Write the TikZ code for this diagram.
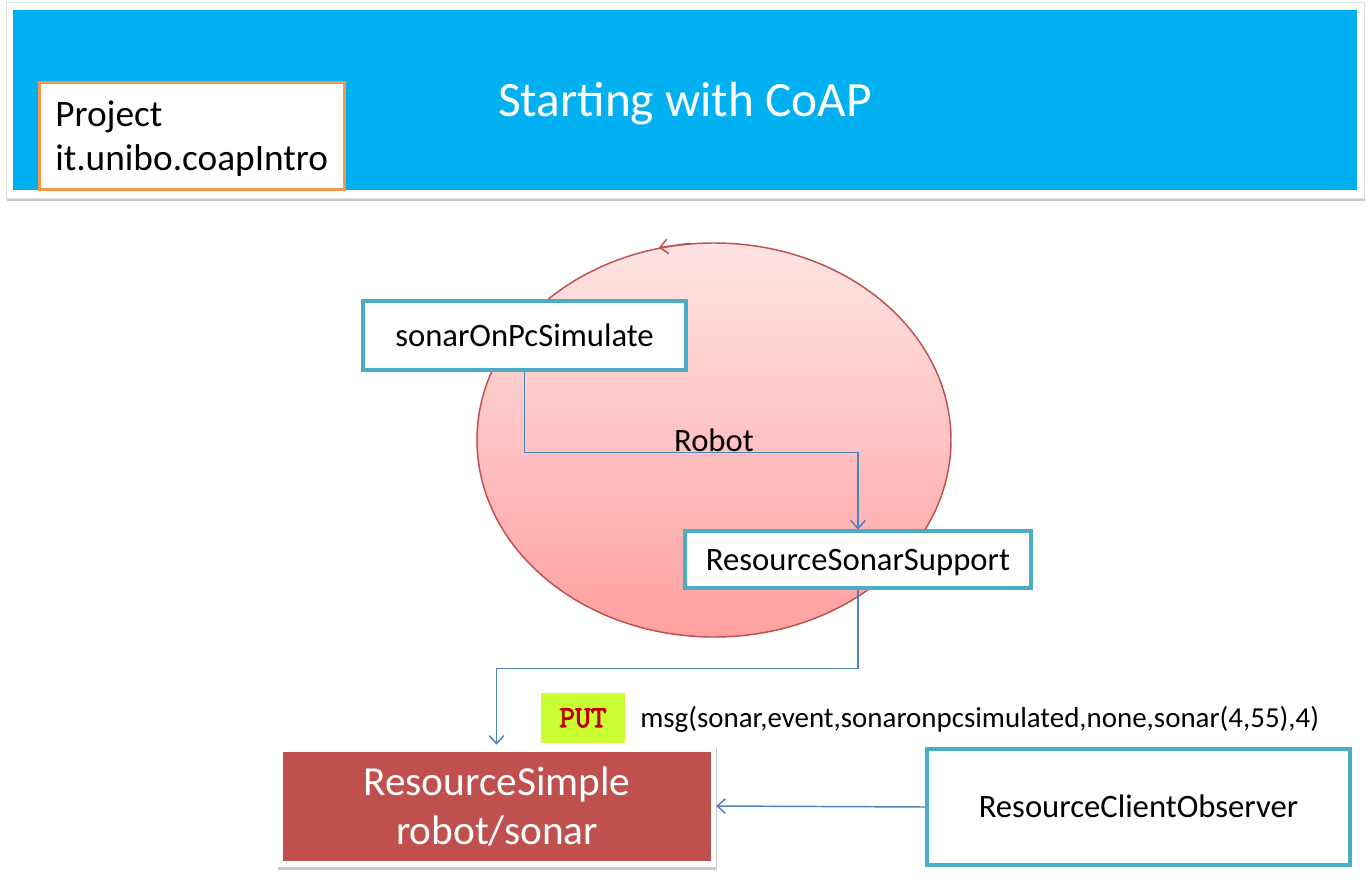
\documentclass[tikz,border=0pt]{standalone}
\usepackage{fontspec}
\setmainfont{Carlito}
\newfontfamily\monob[FakeBold=3]{Latin Modern Mono}
\usetikzlibrary{arrows.meta,shapes.geometric,shadows,calc}
\definecolor{hdrblue}{RGB}{0,176,240}
\definecolor{orangeb}{RGB}{247,150,70}
\definecolor{tealb}{RGB}{75,172,198}
\definecolor{redb}{RGB}{192,80,77}
\definecolor{linkblue}{RGB}{79,129,189}
\definecolor{putgreen}{RGB}{204,255,51}
\definecolor{putred}{RGB}{192,0,0}
\definecolor{pinktop}{RGB}{255,228,228}
\definecolor{pinkbot}{RGB}{255,160,160}
\tikzset{
  boxfont/.style={font=\fontsize{24.5}{29}\selectfont},
  tealbox/.style={draw=tealb, line width=2.3pt, fill=white, inner sep=0pt, boxfont, text height=15.8pt, text depth=0pt},
  link/.style={draw=linkblue, line width=1.1pt, -{Straight Barb[length=6pt,width=11pt,line width=1.1pt]}},
  softshadow/.style={drop shadow={shadow xshift=1pt, shadow yshift=-2.5pt, opacity=0.35, fill=black!60}},
}
\begin{document}
\begin{tikzpicture}[x=0.75pt,y=-0.75pt]
\useasboundingbox (0,0) rectangle (1370,892);
% header
\node[softshadow, fill=white, draw=black!12, line width=0.4pt, minimum width=1358*0.75pt, minimum height=196*0.75pt, inner sep=0pt] (hdrframe) at (685,100) {};
\node[fill=hdrblue, minimum width=1344*0.75pt, minimum height=180*0.75pt, inner sep=0pt] (hdr) at (685,100) {};
\node[text=white, font=\fontsize{37}{44}\selectfont] (title) at (685,104) {Starting with CoAP};
\node[draw=orangeb, line width=2.3pt, fill=white, minimum width=305*0.75pt, minimum height=107*0.75pt, inner sep=0pt] (proj) at (192,136) {};
\node[anchor=west, align=left, inner sep=0pt, font=\fontsize{28}{33}\selectfont] (projtxt) at (55,139) {Project\\it.unibo.coapIntro};
% robot ellipse
\node[ellipse, draw=redb, line width=1.1pt, top color=pinktop, bottom color=pinkbot, minimum width=474*0.75pt, minimum height=394*0.75pt, inner sep=0pt, boxfont] (rob) at (714,440) {Robot};
\draw[draw=redb, line width=1.1pt, -{Straight Barb[length=6pt,width=11pt,line width=1.1pt]}] (rob.97) -- (rob.106);
% boxes
\node[tealbox, minimum width=323*0.75pt, minimum height=69*0.75pt] (sonar) at (524.5,335.5) {sonarOnPcSimulate};
\node[tealbox, minimum width=346*0.75pt, minimum height=57*0.75pt] (rss) at (858,559.5) {ResourceSonarSupport};
\node[tealbox, minimum width=423*0.75pt, minimum height=116*0.75pt] (rco) at (1138.5,807) {ResourceClientObserver};
\node[softshadow, fill=white, minimum width=439*0.75pt, minimum height=122*0.75pt, inner sep=0pt] (rsframe) at (496.5,806) {};
\node[fill=redb, text=white, minimum width=428*0.75pt, minimum height=109*0.75pt, inner sep=0pt, align=center, font=\fontsize{31}{37}\selectfont] (rs) at (497,806.5) {ResourceSimple\\robot/sonar};
% PUT
\node[fill=putgreen, minimum width=84*0.75pt, minimum height=50*0.75pt, inner sep=0pt, text=putred, font=\monob\fontsize{23}{26}\selectfont] (put) at (583,718) {PUT};
\node[anchor=west, inner sep=0pt, font=\fontsize{21.7}{26}\selectfont] (msg) at (640,719) {msg(sonar,event,sonaronpcsimulated,none,sonar(4,55),4)};
% connectors
\draw[link] (sonar.south) -- ++(0,81) -| (rss.north);
\draw[link] (rss.south) -- ++(0,79) -| (rsframe.north);
\draw[link] (rco.west) -- (rsframe.east);
\end{tikzpicture}
\end{document}
